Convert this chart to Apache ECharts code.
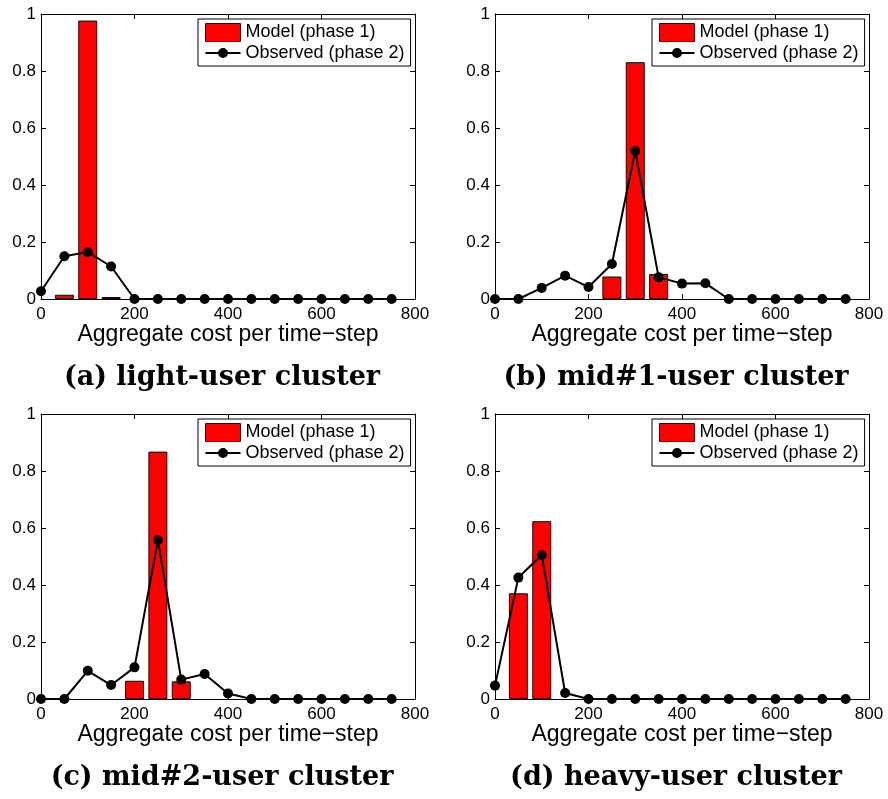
<!DOCTYPE html>
<html>
<head>
<meta charset="utf-8">
<script src="https://cdn.jsdelivr.net/npm/echarts@6/dist/echarts.min.js"></script>
<style>
  html, body { margin: 0; padding: 0; background: #ffffff; }
  #chart { width: 888px; height: 799px; }
</style>
</head>
<body>
<div id="chart"></div>
<script>
// Cost bins (centre of each 50-unit bin) shared by all four clusters
const costBins = [0, 50, 100, 150, 200, 250, 300, 350, 400, 450, 500, 550, 600, 650, 700, 750];
const xTicks = [0, 200, 400, 600, 800];
const yTicks = [0, 0.2, 0.4, 0.6, 0.8, 1];

// Model (phase 1) probabilities per bin; null where no bar is drawn
const lightModel = [null, 0.015, 0.977, 0.007, null, null, null, null, null, null, null, null, null, null, null, null];
const mid1Model  = [null, null, null, null, null, 0.079, 0.831, 0.088, null, null, null, null, null, null, null, null];
const mid2Model  = [null, null, null, null, 0.064, 0.868, 0.062, null, null, null, null, null, null, null, null, null];
const heavyModel = [null, 0.371, 0.624, null, null, null, null, null, null, null, null, null, null, null, null, null];

// Observed (phase 2) probabilities per bin
const lightObserved = [0.027, 0.150, 0.165, 0.114, 0, 0, 0, 0, 0, 0, 0, 0, 0, 0, 0, 0];
const mid1Observed  = [0, 0, 0.039, 0.082, 0.042, 0.123, 0.520, 0.076, 0.054, 0.055, 0, 0, 0, 0, 0, 0];
const mid2Observed  = [0, 0, 0.099, 0.049, 0.111, 0.558, 0.068, 0.088, 0.019, 0, 0, 0, 0, 0, 0, 0];
const heavyObserved = [0.047, 0.426, 0.505, 0.021, 0, 0, 0, 0, 0, 0, 0, 0, 0, 0, 0, 0];

const captions = [
  '(a) light-user cluster',
  '(b) mid#1-user cluster',
  '(c) mid#2-user cluster',
  '(d) heavy-user cluster'
];
const xAxisTitle = 'Aggregate cost per time\u2212step';
const modelName = 'Model (phase 1)';
const observedName = 'Observed (phase 2)';

const panels = [
  { model: lightModel, observed: lightObserved, caption: captions[0] },
  { model: mid1Model,  observed: mid1Observed,  caption: captions[1] },
  { model: mid2Model,  observed: mid2Observed,  caption: captions[2] },
  { model: heavyModel, observed: heavyObserved, caption: captions[3] }
];

// Plot-area geometry for the 2x2 layout
const plotW = 374, plotH = 285;
const lefts = [41, 495, 41, 495];
const tops = [14, 14, 414, 414];

const sansFont = '"Liberation Sans", Arial, Helvetica, sans-serif';
const serifFont = '"DejaVu Serif", "Liberation Serif", serif';

const xMin = xTicks[0], xMax = xTicks[xTicks.length - 1], xStep = xTicks[1] - xTicks[0];
const yMin = yTicks[0], yMax = yTicks[yTicks.length - 1], yStep = yTicks[1] - yTicks[0];

const grid = [], xAxis = [], yAxis = [], series = [], legend = [], graphic = [];

// Legend icon for the observed series: short line with a dot in the middle
const lineDotIcon = 'path://M0,4L35,4L35,6L0,6Z M22.5,5A5,5 0 1 1 12.5,5A5,5 0 1 1 22.5,5Z';

panels.forEach((p, i) => {
  grid.push({ left: lefts[i], top: tops[i], width: plotW, height: plotH, show: false });

  const tick = { show: true, inside: true, length: 5, lineStyle: { color: '#000', width: 1 } };
  const line = { show: true, onZero: false, lineStyle: { color: '#000', width: 1 } };

  xAxis.push({
    type: 'value', gridIndex: i, position: 'bottom',
    min: xMin, max: xMax, interval: xStep,
    axisLine: line, axisTick: tick, splitLine: { show: false },
    axisLabel: { color: '#000', fontSize: 17, fontFamily: sansFont, margin: 7 },
    name: xAxisTitle, nameLocation: 'middle', nameGap: 24,
    nameMoveOverlap: false,
    nameTextStyle: { color: '#000', fontSize: 23, fontFamily: sansFont }
  });
  xAxis.push({
    type: 'value', gridIndex: i, position: 'top',
    min: xMin, max: xMax, interval: xStep,
    axisLine: line, axisTick: tick, splitLine: { show: false },
    axisLabel: { show: false }
  });
  yAxis.push({
    type: 'value', gridIndex: i, position: 'left',
    min: yMin, max: yMax, interval: yStep,
    axisLine: line, axisTick: tick, splitLine: { show: false },
    axisLabel: { color: '#000', fontSize: 17, fontFamily: sansFont, margin: 5 }
  });
  yAxis.push({
    type: 'value', gridIndex: i, position: 'right',
    min: yMin, max: yMax, interval: yStep,
    axisLine: line, axisTick: tick, splitLine: { show: false },
    axisLabel: { show: false }
  });

  const barData = [];
  costBins.forEach((c, k) => { if (p.model[k] != null) barData.push([c, p.model[k]]); });

  series.push({
    type: 'bar', name: modelName,
    xAxisIndex: 2 * i, yAxisIndex: 2 * i,
    data: barData, barWidth: 19,
    itemStyle: { color: '#ff0000', borderColor: '#2a0000', borderWidth: 1 },
    emphasis: { disabled: true }, z: 2
  });
  series.push({
    type: 'line', name: observedName,
    xAxisIndex: 2 * i, yAxisIndex: 2 * i,
    data: costBins.map((c, k) => [c, p.observed[k]]),
    symbol: 'circle', symbolSize: 10,
    lineStyle: { color: '#000', width: 2 },
    itemStyle: { color: '#000', borderWidth: 0 },
    emphasis: { disabled: true }, clip: false, z: 3
  });

  legend.push({
    orient: 'vertical',
    left: lefts[i] + plotW - 217, top: tops[i] + 5,
    padding: [4, 6, 4, 7],
    itemWidth: 35, itemHeight: 18, itemGap: 2,
    backgroundColor: '#fff', borderColor: '#000', borderWidth: 1,
    selectedMode: false,
    textStyle: { color: '#000', fontSize: 18, fontFamily: sansFont, lineHeight: 18 },
    data: [
      { name: modelName, icon: 'rect', itemStyle: { color: '#ff0000', borderColor: '#400000', borderWidth: 1 } },
      { name: observedName, icon: lineDotIcon, itemStyle: { color: '#000', borderWidth: 0 } }
    ]
  });

  graphic.push({
    type: 'text',
    x: lefts[i] + plotW / 2 - 6,
    y: tops[i] + 364,
    style: {
      text: p.caption, fill: '#000',
      font: 'bold 27px ' + serifFont,
      textAlign: 'center', textVerticalAlign: 'middle'
    }
  });
});

const chart = echarts.init(document.getElementById('chart'), null, { renderer: 'canvas' });
chart.setOption({
  animation: false,
  backgroundColor: '#fff',
  grid, xAxis, yAxis, series, legend, graphic
});
</script>
</body>
</html>
